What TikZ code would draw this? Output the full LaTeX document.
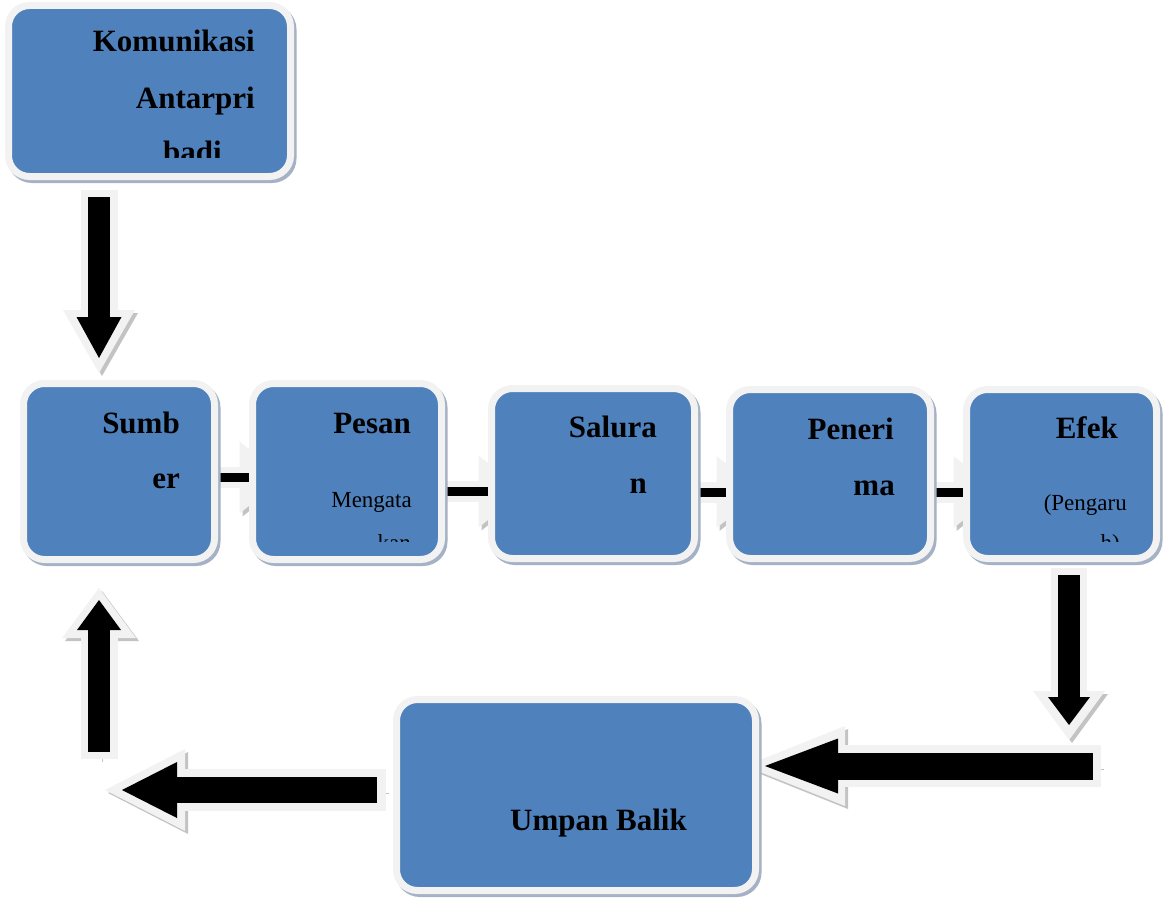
\documentclass[tikz,border=0pt]{standalone}
\usepackage{fontspec}
\setmainfont{Liberation Serif}
\usetikzlibrary{arrows.meta,calc}
\pgfdeclarelayer{bawah}
\pgfsetlayers{bawah,main}
\definecolor{biru}{HTML}{4F81BD}
\definecolor{tepi}{HTML}{F2F2F2}
\definecolor{bayang}{HTML}{A5B1C4}
\definecolor{abu}{HTML}{C3C3C3}

\begin{document}
\begin{tikzpicture}[
  x=1pt, y=-1pt,
  blok/.style={rectangle, rounded corners=21pt, fill=biru, draw=tepi, line width=7pt,
    inner sep=0pt, outer sep=0pt,
    preaction={draw=bayang, fill=bayang, transform canvas={shift={(2.5pt,-3pt)}}}},
  judul/.style={font=\fontsize{31}{31}\selectfont\bfseries, anchor=base east, inner sep=0pt},
  ket/.style={font=\fontsize{23}{23}\selectfont, anchor=base east, inner sep=0pt},
  luar/.style={draw=tepi, preaction={draw=abu, transform canvas={shift={(3pt,-3pt)}}}},
  dalam/.style={draw=black}
]
\path[use as bounding box] (0,0) rectangle (1168,899);

% kotak
\node[blok, minimum width=282pt, minimum height=171pt] (kom) at (149.5,91) {};
\node[blok, minimum width=191pt, minimum height=176pt] (sumber) at (119,471.5) {};
\node[blok, minimum width=189pt, minimum height=176pt] (pesan) at (347,471.5) {};
\node[blok, minimum width=203pt, minimum height=170pt] (saluran) at (593,473.5) {};
\node[blok, minimum width=201pt, minimum height=169pt] (penerima) at (830,474) {};
\node[blok, minimum width=190pt, minimum height=169pt] (efek) at (1061.5,474) {};
\node[blok, minimum width=359pt, minimum height=191pt] (umpan) at (576,795) {};

% teks
\node[judul] (kom-1) at (255,52) {Komunikasi};
\node[judul] (kom-2) at (255,108) {Antarpri};
\begin{scope}
  \clip (12,9) rectangle (287,157);
  \node[judul] (kom-3) at (222,162) {badi};
\end{scope}
\node[judul] (sumber-1) at (180,433) {Sumb};
\node[judul] (sumber-2) at (180,488) {er};
\node[judul] (pesan-1) at (411,433) {Pesan};
\node[ket] (pesan-2) at (412,507) {Mengata};
\begin{scope}
  \clip (256,387) rectangle (438,541);
  \node[ket] (pesan-3) at (411,550) {kan};
\end{scope}
\node[judul] (saluran-1) at (657,437) {Salura};
\node[judul] (saluran-2) at (647,493) {n};
\node[judul] (penerima-1) at (894,439) {Peneri};
\node[judul] (penerima-2) at (895,495) {ma};
\node[judul] (efek-1) at (1118,438) {Efek};
\node[ket] (efek-2) at (1127,510) {(Pengaru};
\begin{scope}
  \clip (970,393) rectangle (1153,541);
  \node[ket] (efek-3) at (1120,550) {h)};
\end{scope}
\node[judul, anchor=base west] (umpan-1) at (510,830) {Umpan Balik};

% panah
\begin{pgfonlayer}{bawah}
\coordinate (turun-a) at (99,197);
\coordinate (turun-b) at (99,358);
\draw[luar, line width=37pt, shorten <=-7pt, shorten >=-15pt,
  -{Triangle[length=63pt,width=72pt,line width=0pt]}] (turun-a) -- (turun-b);
\draw[dalam, line width=22pt,
  -{Triangle[length=41pt,width=45pt,line width=0pt]}] (turun-a) -- (turun-b);

\foreach \a/\b/\y in {sumber/pesan/477.5, pesan/saluran/491.5, saluran/penerima/492, penerima/efek/492}{
  \draw[luar, line width=21pt, shorten >=-6pt,
    -{Triangle[length=45pt,width=72pt,line width=0pt]}]
    (\a.east |- 0,\y) -- ($(\b.west |- 0,\y)+(26,0)$);
  \draw[dalam, line width=9pt,
    -{Triangle[length=24pt,width=26pt,line width=0pt]}]
    (\a.east |- 0,\y) -- ($(\b.west |- 0,\y)+(26,0)$);
}

\coordinate (efek-a) at (1069,575);
\coordinate (efek-b) at (1069,725);
\draw[luar, line width=36pt, shorten <=-7pt, shorten >=-15pt,
  -{Triangle[length=49pt,width=72pt,line width=0pt]}] (efek-a) -- (efek-b);
\draw[dalam, line width=22pt,
  -{Triangle[length=28pt,width=42pt,line width=0pt]}] (efek-a) -- (efek-b);

\coordinate (masuk-a) at (1093,766);
\coordinate (masuk-b) at (765,766);
\draw[luar, line width=42pt, shorten <=-8pt, shorten >=-20pt,
  -{Triangle[length=100pt,width=80pt,line width=0pt]}] (masuk-a) -- (masuk-b);
\draw[dalam, line width=27pt,
  -{Triangle[length=73pt,width=55pt,line width=0pt]}] (masuk-a) -- (masuk-b);

\coordinate (balik-a) at (377,790);
\coordinate (balik-b) at (122,790);
\draw[luar, line width=42pt, shorten <=-9pt, shorten >=-17pt,
  -{Triangle[length=80pt,width=82pt,line width=0pt]}] (balik-a) -- (balik-b);
\draw[dalam, line width=26pt,
  -{Triangle[length=55pt,width=56pt,line width=0pt]}] (balik-a) -- (balik-b);

\coordinate (naik-a) at (99,752);
\coordinate (naik-b) at (99,600);
\draw[luar, line width=37pt, shorten <=-7pt, shorten >=-12pt,
  -{Triangle[length=50pt,width=74pt,line width=0pt]}] (naik-a) -- (naik-b);
\draw[dalam, line width=22pt,
  -{Triangle[length=30pt,width=44pt,line width=0pt]}] (naik-a) -- (naik-b);
\end{pgfonlayer}
\end{tikzpicture}
\end{document}
